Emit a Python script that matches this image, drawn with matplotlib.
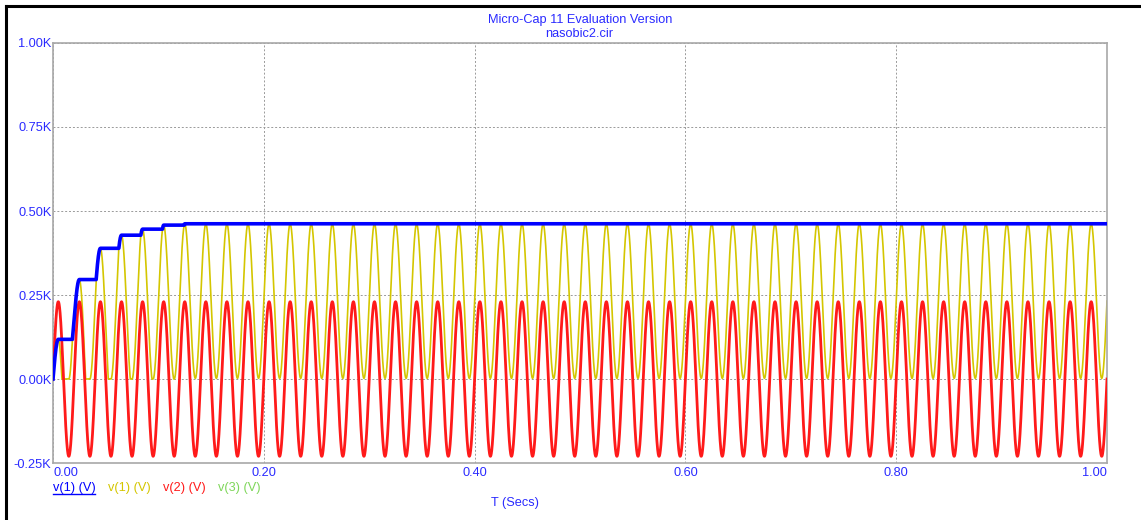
import matplotlib
matplotlib.use("Agg")
import matplotlib.pyplot as plt
import numpy as np

plt.rcParams["font.family"] = ["Liberation Sans", "DejaVu Sans"]

# values
source_amplitude = 230.0          # V, peak of v(2)
source_freq = 50.0                # Hz
output_levels = [118, 296, 389, 428, 446, 458, 462]   # v(1) after each positive peak
y_ticks = [-250, 0, 250, 500, 750, 1000]
y_labels = ["-0.25K", "0.00K", "0.25K", "0.50K", "0.75K", "1.00K"]
x_ticks = [0.0, 0.2, 0.4, 0.6, 0.8, 1.0]
x_labels = ["0.00", "0.20", "0.40", "0.60", "0.80", "1.00"]
legend_names = ["v(1) (V)", "v(1) (V)", "v(2) (V)", "v(3) (V)"]
legend_colors = ["#0000ff", "#d4c600", "#ff1a1a", "#7fd65a"]

TEXT_BLUE = "#2a2aff"
FS = 9.2
W, H = 1141, 520


def build_waveforms(n=40001):
    t = np.linspace(0, 1, n)
    src = source_amplitude * np.sin(2 * np.pi * source_freq * t)
    clamp = np.zeros(n)
    out = np.zeros(n)
    c1 = 0.0
    vout = 0.0
    peak = 0
    charging = False
    r0 = out0 = 0.0
    phase = (t * source_freq) % 1.0
    for i in range(n):
        v = src[i]
        y = v + c1
        if y < 0:
            c1 = -v
            y = 0.0
        rising = phase[i] < 0.25 or phase[i] > 0.75
        target = output_levels[min(peak, len(output_levels) - 1)]
        if rising and y >= vout and not charging and target > vout + 0.5:
            charging = True
            r0, out0 = v, vout
        if charging:
            if rising:
                vout = out0 + (v - r0) * (target - out0) / (source_amplitude - r0)
                y = vout
                c1 = y - v
            else:
                charging = False
        if i > 0 and phase[i - 1] < 0.25 <= phase[i]:
            peak += 1
            charging = False
        clamp[i] = y
        out[i] = vout
    return t, src, clamp, out


t, v2, v1_clamp, v1_out = build_waveforms()

fig = plt.figure(figsize=(W / 100, H / 100), dpi=100)
ax = fig.add_axes([53 / W, (H - 463) / H, 1054 / W, 420 / H])

ax.plot(t, v1_clamp, color=legend_colors[1], lw=1.2, zorder=2)
ax.plot(t, v2, color=legend_colors[2], lw=2.0, zorder=3)
ax.plot(t, v1_out, color=legend_colors[0], lw=2.6, zorder=4)

ax.set_xlim(0, 1)
ax.set_ylim(-250, 1000)
ax.set_xticks(x_ticks)
ax.set_yticks(y_ticks)
ax.set_xticklabels([])
ax.set_yticklabels(y_labels, color=TEXT_BLUE, fontsize=FS)
ax.tick_params(length=0, pad=1)
ax.set_axisbelow(True)
ax.grid(True, color="#9a9a9a", ls=(0, (2, 2)), lw=0.7)
for s in ax.spines.values():
    s.set_color("#a8a8a8")
    s.set_linewidth(1.2)

# x tick labels: end labels kept inside the plot width
for x, lab in zip(x_ticks, x_labels):
    ha = "left" if x == x_ticks[0] else ("right" if x == x_ticks[-1] else "center")
    ax.text(x, -0.01, lab, transform=ax.get_xaxis_transform(), ha=ha, va="top",
            color=TEXT_BLUE, fontsize=FS)

# legend row
legend_x = [53, 108, 163, 218]
for x, name, c in zip(legend_x, legend_names, legend_colors):
    fig.text(x / W, 1 - 488.5 / H, name, color=c, fontsize=FS, ha="left", va="center")
fig.add_artist(plt.Line2D([53 / W, 95 / W], [1 - 494 / H, 1 - 494 / H],
                          color=legend_colors[0], lw=1))

fig.text(515 / W, 1 - 503 / H, "T (Secs)", color=TEXT_BLUE, fontsize=FS,
         ha="center", va="center")
fig.text(580 / W, 1 - 20 / H, "Micro-Cap 11 Evaluation Version", color=TEXT_BLUE,
         fontsize=FS, ha="center", va="center")
fig.text(579 / W, 1 - 34 / H, "nasobic2.cir", color=TEXT_BLUE, fontsize=FS,
         ha="center", va="center")

# window border (top and left)
fig.add_artist(plt.Line2D([6 / W, 6 / W], [0, 1 - 5.5 / H], color="black", lw=2.2))
fig.add_artist(plt.Line2D([6 / W, 1], [1 - 5.5 / H, 1 - 5.5 / H], color="black", lw=2.2))

fig.savefig("out.png", dpi=100)
